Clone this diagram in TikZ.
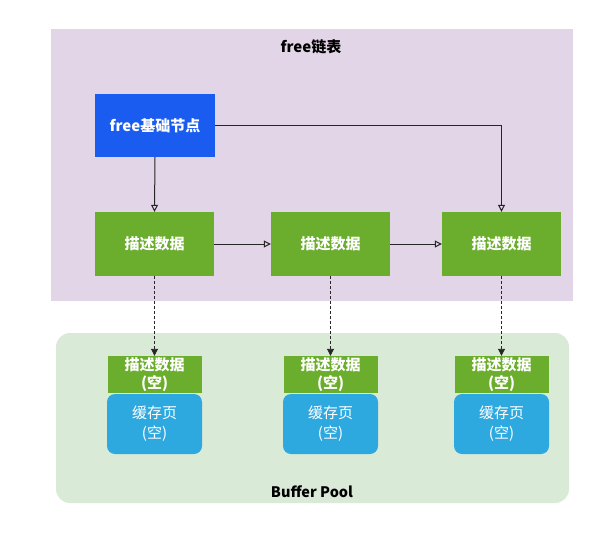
\documentclass[tikz,border=0pt]{standalone}
\usepackage{fontspec}
\setmainfont{Noto Sans CJK SC}
\usetikzlibrary{arrows.meta}
\definecolor{bgpurple}{HTML}{E1D5E7}
\definecolor{poolgreen}{HTML}{D9EAD7}
\definecolor{descgreen}{HTML}{6BAD2C}
\definecolor{basblue}{HTML}{1A5BF0}
\definecolor{cacheblue}{HTML}{2EA9E0}
\tikzset{
  box/.style={draw=none, inner sep=0pt, align=center, text=white, font=\fontsize{15}{17}\selectfont\bfseries},
  lnk/.style={draw=black!85, line width=1pt, -{Triangle[open,length=7pt,width=7pt]}},
  dlnk/.style={draw=black!85, line width=0.9pt, dash pattern=on 3pt off 2pt, -{Triangle[length=7pt,width=7pt]}},
}
\begin{document}
\begin{tikzpicture}[x=1pt,y=-1pt]
\useasboundingbox (0,0) rectangle (607,549);
\fill[white] (0,0) rectangle (607,549);
% background regions
\fill[bgpurple] (51,29) rectangle (573,301);
\fill[poolgreen, rounded corners=14pt] (56,333) rectangle (569,503);
\node[font=\fontsize{15}{17}\selectfont\bfseries] (title) at (311,47) {free链表};
\node[font=\fontsize{14.5}{17}\selectfont\bfseries] (pool) at (312,492) {Buffer Pool};
% top nodes
\node[box, fill=basblue, minimum width=120pt, minimum height=63pt] (base) at (155,125.5) {free基础节点};
\node[box, fill=descgreen, minimum width=119pt, minimum height=64pt] (d1) at (154.5,244) {描述数据};
\node[box, fill=descgreen, minimum width=119pt, minimum height=64pt] (d2) at (330.5,244) {描述数据};
\node[box, fill=descgreen, minimum width=119pt, minimum height=64pt] (d3) at (501.5,244) {描述数据};
% bottom nodes
\foreach \i/\cx in {1/154.5,2/330.5,3/501.5}{
  \node[box, fill=descgreen, minimum width=94pt, minimum height=37pt, font=\fontsize{15}{18}\selectfont\bfseries] (e\i) at (\cx,374.5) {描述数据\\(空)};
  \node[box, fill=cacheblue, rounded corners=8pt, minimum width=95pt, minimum height=60pt, font=\fontsize{15}{20}\selectfont] (c\i) at (\cx,424) {缓存页\\(空)};
}
% connectors
\draw[lnk] (base.south) -- (d1.north);
\draw[lnk] (d1.east) -- (d2.west);
\draw[lnk] (d2.east) -- (d3.west);
\draw[lnk] (base.east) -- (base.east -| d3.north) -- (d3.north);
\draw[dlnk] (d1.south) -- (e1.north);
\draw[dlnk] (d2.south) -- (e2.north);
\draw[dlnk] (d3.south) -- (e3.north);
\end{tikzpicture}
\end{document}
